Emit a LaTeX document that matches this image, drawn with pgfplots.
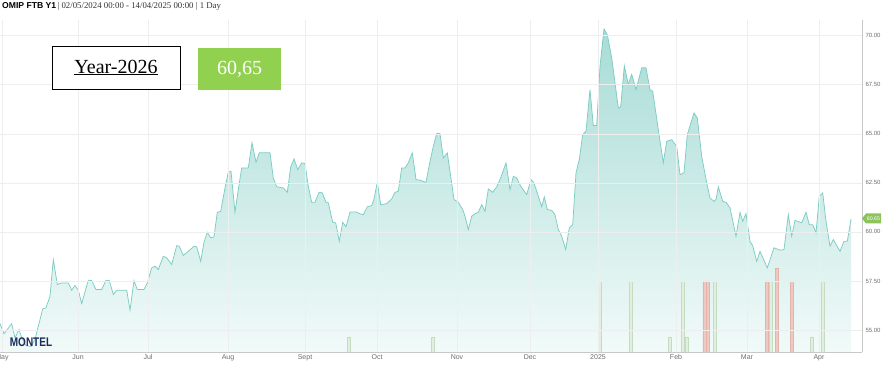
\documentclass[border=0pt]{standalone}
\usepackage{fontspec}
\setmainfont{Liberation Sans}
\newfontfamily\seriffont{Liberation Serif}
\usepackage{pgfplots}
\pgfplotsset{compat=1.18}
\usepackage{pgfplotstable}
\definecolor{linecol}{RGB}{125,204,196}
\definecolor{topfill}{RGB}{168,220,214}
\definecolor{botfill}{RGB}{241,250,249}
\definecolor{gridcol}{RGB}{238,238,238}
\definecolor{axcol}{RGB}{200,200,200}
\definecolor{labcol}{RGB}{110,110,110}
\definecolor{xlgreen}{RGB}{146,208,80}
\definecolor{taggreen}{RGB}{140,196,90}
\definecolor{gbarfill}{RGB}{226,238,224}
\definecolor{gbardraw}{RGB}{196,220,192}
\definecolor{rbarfill}{RGB}{238,200,194}
\definecolor{rbardraw}{RGB}{226,180,172}
\definecolor{montel}{RGB}{26,44,92}

\pgfplotstableread{
x v
0 55.33
4 54.81
11.7 55.32
15 54.60
19 55.03
21.7 54.60
26 54.21
31 54.16
35 54.52
42.7 56.08
46 56.13
50 56.72
53.3 58.59
57.3 57.32
61.7 57.40
68.3 57.40
71.7 57.03
75 57.27
78.3 57.03
81.7 56.35
88.3 57.54
91.7 57.52
96 57.06
101.7 57.06
106 57.54
109.3 57.52
113.3 56.81
116.7 57.03
126.7 57.03
130 56.01
134 57.52
137.3 57.06
144 57.06
147.3 57.40
151.7 58.17
155 58.25
158.3 58.08
163.3 58.76
166.7 58.68
171.7 58.34
176.7 59.30
179.3 59.27
183.3 58.80
188.3 59.01
194 59.27
196.7 59.24
200.7 58.50
204 59.47
207.3 59.98
210.7 59.70
214 59.75
217.3 61.00
220.7 61.05
225 62.24
228.3 63.04
231 63.09
235 61.00
238.3 62.16
241.7 63.26
248.3 63.26
252 64.54
256 63.55
259.3 64.03
270 64.03
273.3 62.75
276.7 62.30
283.3 62.24
287.3 62.02
290.7 63.31
294 63.72
297.7 63.18
301.7 63.52
305 63.48
308.3 62.33
311.7 61.51
315 61.51
319 62.02
322.3 61.99
326 61.51
328.3 61.48
332.7 60.49
335.7 60.46
339.3 59.52
342.7 60.49
346 60.26
350 61.01
356.7 61.01
360 60.92
363.3 60.88
367.3 61.28
371.7 61.34
374 61.68
377.3 62.53
380.7 61.39
386.7 61.44
391.7 61.68
395 62.02
398.3 62.07
401.7 63.26
405 63.26
408.3 63.52
412.3 64.03
416 62.67
420 62.63
426 62.53
430 63.60
433.3 64.36
436.7 65.01
440 65.01
443.3 63.77
447.3 64.03
454 61.65
458.3 61.51
462.7 61.14
465 60.80
468.3 60.12
471.7 60.80
475 60.93
478.3 61.00
481.7 61.39
485 61.05
488.3 62.19
492.7 62.02
496.7 62.30
500 62.67
506 63.52
510 62.16
513.3 62.83
516.7 62.75
520.7 62.33
526.7 61.90
531 62.67
534 62.50
541.7 61.28
544.3 61.79
547.3 61.14
551.7 61.10
555 60.88
558.3 60.12
561.7 59.78
565.7 59.10
569.3 60.21
572.7 60.37
576 63.01
579.3 63.69
582.7 64.96
586 65.13
590 67.25
593.3 65.42
596.7 65.42
600 68.44
604 70.34
607.3 70.05
611.7 68.87
615 67.59
618.3 66.32
620.7 66.37
624.3 68.47
628.3 67.51
631.7 68.02
636 67.25
641.7 68.36
646 68.36
650 67.25
652.7 67.17
658.3 65.21
663.3 63.52
666.7 64.62
671.7 64.70
676.7 64.36
680 62.92
684 63.01
687.3 64.96
694 66.06
697.3 65.81
701.7 63.85
706.7 62.50
710 61.73
714 61.56
716 61.65
718.3 62.30
722.7 61.56
726 61.51
730 61.23
736 59.78
740 61.00
742.7 60.54
746 60.93
750 59.52
752.7 59.30
756.7 58.50
760 59.01
767.3 58.17
774 59.19
780 59.07
784 59.10
788.3 60.88
791.7 59.78
795 60.59
801.7 60.46
806 61.00
809.3 60.37
812.7 60.37
816 59.95
819.3 61.82
822.7 61.99
826 60.54
830 59.27
833.3 59.61
840 59.01
844 59.52
847.3 59.52
851 60.65
}\pricedata

\begin{document}
\begin{tikzpicture}[x=1pt,y=1pt]
\path[use as bounding box] (0,-20) rectangle (886,352);
\begin{axis}[
  at={(0,0)}, anchor=south west,
  scale only axis, width=862pt, height=332pt,
  xmin=0, xmax=862, ymin=53.88, ymax=70.8,
  axis on top,
  axis x line*=bottom, axis y line*=right,
  axis line style={-, draw=axcol, line width=0.8pt},
  xtick={2,78,148,228,305,377,457,530,598,676,747,819},
  xticklabels={May,Jun,Jul,Aug,Sept,Oct,Nov,Dec,2025,Feb,Mar,Apr},
  ytick={55,57.5,60,62.5,65,67.5,70},
  yticklabel pos=right,
  /pgf/number format/.cd, fixed, fixed zerofill, precision=2, assume math mode=true,
  /pgfplots/.cd,
  major tick length=0pt,
  xticklabel style={font=\fontsize{7}{8}\selectfont, text=labcol, yshift=1pt},
  yticklabel style={font=\fontsize{6}{7}\selectfont, text=labcol, xshift=0pt},
  grid=major,
  major grid style={draw=gridcol, line width=0.6pt},
  clip=true,
]
\addplot[draw=none, top color=topfill, bottom color=botfill] table[x=x,y=v] {\pricedata} -- (axis cs:851,53.88) -- (axis cs:0,53.88) -- cycle;
\addplot[draw=linecol, line width=0.75pt, mark=none] table[x=x,y=v] {\pricedata};
% volume-like bars (green)
\addplot[ybar, bar shift=0pt, bar width=3.2, fill=gbarfill, draw=gbardraw, line width=0.6pt] coordinates {
(349,54.65) (433,54.65) (600,57.5) (631,57.5) (670,54.65) (683,57.5) (687,54.65) (715,57.5) (771,57.5) (812,54.65) (823,57.5)};
% bars (red)
\addplot[ybar, bar shift=0pt, bar width=3.2, fill=rbarfill, draw=rbardraw, line width=0.6pt] coordinates {
(704.5,57.5) (708,57.5) (767,57.5) (777,58.15) (792,57.5)};
\end{axis}
% header
\node[anchor=west, inner sep=0pt] at (2,346) {\fontsize{8.6}{10}\selectfont\textbf{OMIP FTB Y1}\,{\seriffont\fontsize{8.8}{10}\selectfont\color{black!80}| 02/05/2024 00:00 - 14/04/2025 00:00 | 1 Day}};
% Year box
\node[draw=black, line width=0.9pt, fill=white, minimum width=128pt, minimum height=43pt, inner sep=0pt] at (116,284.5) {\seriffont\fontsize{20}{22}\selectfont\underline{Year-2026}};
\node[fill=xlgreen, minimum width=83pt, minimum height=42pt, inner sep=0pt, text=white] at (239.5,283) {\seriffont\fontsize{20}{22}\selectfont 60,65};
% Montel logo
\node[inner sep=0pt, text=montel] at (31,10) {\scalebox{1}[1.25]{\fontsize{10}{10}\selectfont\bfseries MONTEL}};
% last value tag
\fill[taggreen] (862,133.5) -- (866,138.5) -- (881,138.5) -- (881,128.5) -- (866,128.5) -- cycle;
\node[inner sep=0pt, text=white] at (873.5,133.5) {\fontsize{5.3}{6}\selectfont 60.65};
\end{tikzpicture}
\end{document}
